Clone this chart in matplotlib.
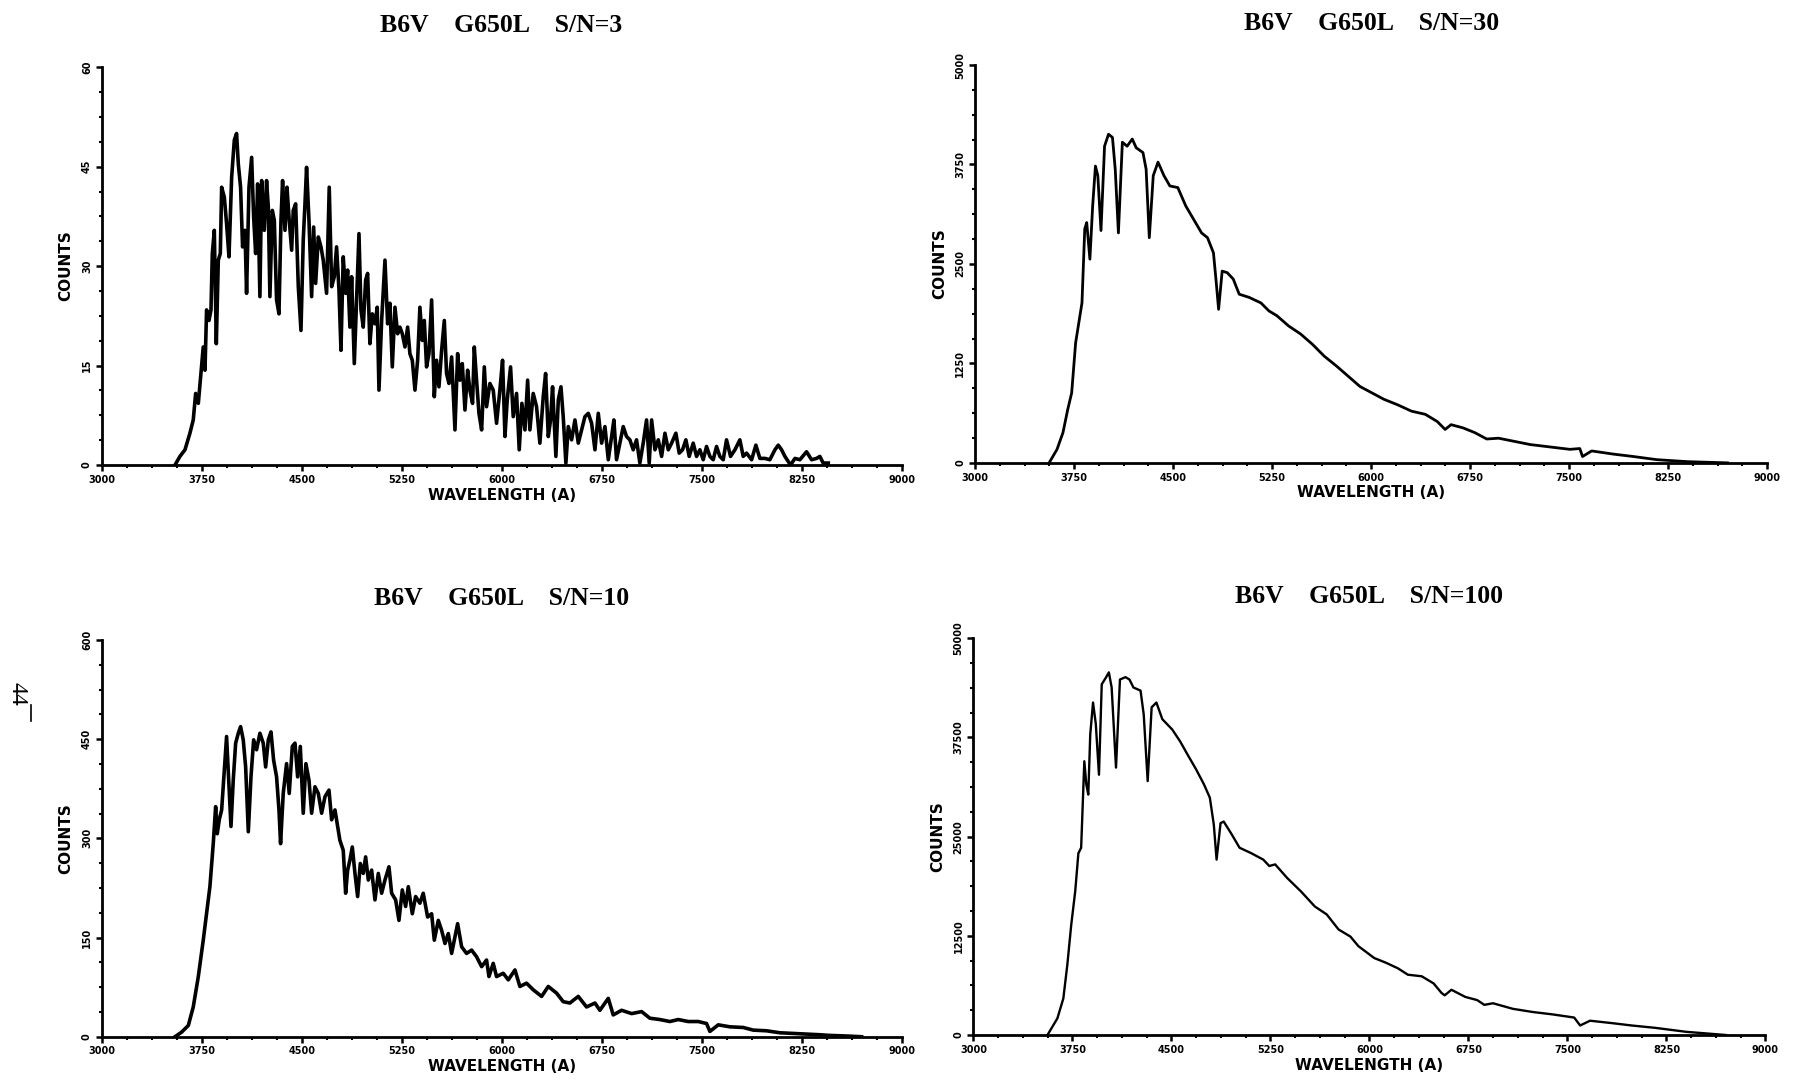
import matplotlib
matplotlib.use("Agg")
import matplotlib.pyplot as plt
from matplotlib.ticker import AutoMinorLocator

# ---- data ----
x_ticks = [3000, 3750, 4500, 5250, 6000, 6750, 7500, 8250, 9000]

wl_sn3 = [3550, 3587, 3625, 3662, 3687, 3705, 3725, 3745, 3762, 3775, 3787, 3805, 3820, 3830, 3845,
          3860, 3875, 3890, 3900, 3920, 3937, 3955, 3975, 3995, 4012, 4025, 4042, 4057, 4075, 4087,
          4105, 4125, 4140, 4155, 4170, 4187, 4200, 4220, 4237, 4250, 4262, 4280, 4295, 4312, 4330,
          4345, 4357, 4375, 4390, 4405, 4425, 4437, 4455, 4475, 4495, 4512, 4525, 4537, 4555, 4575,
          4590, 4605, 4625, 4645, 4662, 4687, 4707, 4725, 4745, 4762, 4780, 4795, 4812, 4830, 4845,
          4862, 4875, 4895, 4912, 4930, 4945, 4962, 4980, 4995, 5012, 5030, 5050, 5067, 5080, 5100,
          5125, 5145, 5162, 5180, 5200, 5220, 5237, 5255, 5275, 5295, 5312, 5330, 5350, 5370, 5387,
          5405, 5420, 5437, 5455, 5475, 5495, 5512, 5530, 5550, 5570, 5587, 5605, 5625, 5650, 5670,
          5687, 5705, 5725, 5745, 5762, 5782, 5795, 5812, 5830, 5850, 5870, 5887, 5912, 5937, 5962,
          5987, 6007, 6025, 6042, 6067, 6087, 6112, 6132, 6152, 6175, 6195, 6212, 6237, 6262, 6287,
          6312, 6330, 6350, 6367, 6382, 6407, 6425, 6445, 6462, 6482, 6500, 6525, 6550, 6575, 6600,
          6625, 6650, 6675, 6700, 6725, 6750, 6775, 6800, 6825, 6842, 6862, 6887, 6912, 6937, 6962,
          6987, 7012, 7037, 7062, 7087, 7107, 7125, 7150, 7175, 7200, 7225, 7250, 7275, 7307, 7332,
          7357, 7382, 7407, 7437, 7462, 7487, 7512, 7537, 7562, 7587, 7612, 7637, 7662, 7687, 7717,
          7750, 7787, 7812, 7837, 7875, 7907, 7937, 7975, 8012, 8050, 8075, 8100, 8125, 8167, 8200,
          8237, 8287, 8325, 8362, 8387, 8412, 8450]
counts_sn3 = [0, 1.3, 2.3, 4.8, 6.8, 10.8, 9.3, 13.8, 17.8, 14.3, 23.4, 21.8, 23.4, 31.9, 35.4,
              18.3, 30.9, 31.9, 41.9, 40.4, 36.4, 31.4, 43.4, 49.0, 50.0, 45.4, 41.9, 32.9, 35.4, 25.9,
              41.9, 46.4, 37.4, 31.9, 42.4, 25.4, 42.9, 35.4, 42.9, 38.9, 25.4, 38.4, 36.9, 24.9, 22.8,
              36.9, 42.9, 35.4, 41.9, 37.4, 32.4, 38.4, 39.4, 26.9, 20.3, 33.9, 39.4, 44.9, 36.9, 25.4,
              35.9, 27.4, 34.4, 32.9, 30.9, 25.9, 41.9, 26.9, 28.4, 32.9, 26.4, 17.3, 31.4, 25.9, 29.4,
              20.8, 28.4, 15.3, 24.9, 34.9, 23.4, 20.8, 27.9, 28.9, 18.3, 22.8, 21.3, 23.8, 11.3, 21.8,
              30.9, 21.3, 24.4, 14.8, 23.8, 19.8, 20.8, 19.8, 17.8, 20.8, 16.8, 15.8, 11.3, 15.8, 23.8,
              18.8, 21.8, 14.8, 16.8, 24.9, 10.3, 15.8, 11.8, 17.3, 21.8, 13.8, 12.3, 16.3, 5.3, 16.8,
              12.8, 15.3, 8.3, 14.3, 11.3, 9.3, 17.8, 12.8, 7.8, 5.3, 14.8, 8.8, 12.3, 11.3, 6.3,
              11.3, 15.8, 4.3, 9.8, 14.8, 7.3, 10.8, 2.3, 9.3, 5.3, 12.8, 5.3, 10.8, 8.8, 3.3,
              10.3, 13.8, 4.3, 6.8, 11.8, 1.3, 9.8, 11.8, 7.3, 0.3, 5.8, 3.8, 6.8, 3.3, 5.3,
              7.3, 7.8, 6.3, 2.3, 7.8, 3.3, 5.8, 0.8, 4.3, 6.8, 0.8, 3.3, 5.8, 4.3, 3.8,
              2.3, 3.8, 0.3, 3.3, 6.8, 0.3, 6.8, 2.3, 3.8, 1.3, 4.8, 2.3, 3.3, 4.8, 1.8,
              2.3, 3.8, 1.3, 3.3, 1.3, 2.3, 0.8, 2.8, 1.3, 0.8, 2.8, 1.3, 0.8, 3.8, 1.3,
              2.3, 3.8, 1.3, 1.8, 0.8, 3.0, 1.0, 1.0, 0.8, 2.3, 3.0, 2.3, 1.3, 0.0, 1.0,
              0.8, 2.0, 0.8, 1.0, 1.3, 0.3, 0.3]

wl_sn10 = [3550, 3600, 3650, 3687, 3725, 3762, 3787, 3812, 3837, 3855, 3867, 3882, 3900, 3920, 3937,
           3955, 3970, 3987, 4005, 4025, 4042, 4062, 4080, 4100, 4120, 4140, 4162, 4187, 4212, 4230,
           4250, 4270, 4290, 4312, 4330, 4342, 4362, 4387, 4407, 4430, 4450, 4470, 4490, 4512, 4532,
           4555, 4575, 4600, 4625, 4650, 4675, 4705, 4725, 4750, 4770, 4787, 4812, 4830, 4845, 4862,
           4880, 4900, 4920, 4940, 4962, 4980, 5000, 5025, 5050, 5075, 5100, 5125, 5155, 5175, 5205,
           5230, 5255, 5280, 5300, 5330, 5355, 5387, 5412, 5445, 5475, 5495, 5525, 5550, 5575, 5600,
           5625, 5670, 5700, 5737, 5775, 5812, 5850, 5887, 5905, 5937, 5962, 6012, 6050, 6100, 6137,
           6187, 6237, 6300, 6350, 6412, 6462, 6512, 6575, 6637, 6700, 6737, 6800, 6837, 6900, 6975,
           7050, 7112, 7187, 7262, 7325, 7400, 7475, 7537, 7562, 7625, 7712, 7812, 7887, 7987, 8087,
           8187, 8287, 8387, 8462, 8600, 8700]
counts_sn10 = [0, 7, 17, 45, 91, 146, 186, 227, 292, 348, 307, 328, 343, 403, 454,
               378, 318, 388, 444, 459, 469, 449, 408, 310, 393, 449, 434, 459, 444, 408,
               449, 461, 418, 393, 343, 292, 368, 413, 368, 439, 444, 393, 439, 338, 413,
               388, 338, 378, 368, 338, 363, 373, 328, 343, 318, 297, 282, 217, 252, 267,
               287, 247, 212, 262, 247, 272, 237, 252, 207, 247, 217, 237, 257, 217, 207,
               176, 222, 197, 227, 186, 212, 202, 217, 181, 186, 146, 176, 161, 141, 156,
               126, 171, 136, 126, 131, 121, 106, 116, 91, 111, 91, 96, 86, 101, 76,
               81, 71, 61, 76, 66, 53, 51, 61, 45, 51, 40, 58, 33, 40, 35,
               38, 28, 26, 23, 26, 23, 23, 20, 8, 18, 15, 14, 10, 9, 6,
               5, 4, 3, 2, 1, 0]

wl_sn30 = [3561, 3621, 3666, 3702, 3732, 3762, 3786, 3810, 3831, 3846, 3870, 3891, 3912, 3930, 3954,
           3981, 4011, 4041, 4062, 4086, 4116, 4152, 4191, 4221, 4272, 4296, 4320, 4350, 4386, 4431,
           4476, 4536, 4596, 4656, 4716, 4761, 4806, 4827, 4845, 4872, 4911, 4956, 5001, 5076, 5166,
           5226, 5286, 5376, 5466, 5556, 5646, 5736, 5826, 5916, 6006, 6096, 6201, 6306, 6411, 6501,
           6561, 6606, 6696, 6786, 6876, 6966, 7086, 7206, 7356, 7506, 7581, 7602, 7671, 7836, 7986,
           8166, 8400, 8700]
counts_sn30 = [0, 170, 380, 670, 880, 1510, 1760, 2010, 2940, 3020, 2560, 3230, 3730, 3610, 2920,
               3980, 4130, 4090, 3690, 2890, 4030, 3980, 4070, 3960, 3900, 3690, 2830, 3610, 3780, 3610,
               3480, 3460, 3230, 3060, 2890, 2830, 2640, 2270, 1930, 2410, 2390, 2310, 2120, 2080, 2010,
               1910, 1850, 1720, 1620, 1490, 1340, 1220, 1090, 960, 880, 800, 730, 650, 610, 520,
               420, 480, 440, 380, 300, 310, 270, 230, 200, 170, 180, 80, 150, 110, 80,
               40, 15, 0]

wl_sn100 = [3561, 3636, 3681, 3711, 3741, 3771, 3795, 3816, 3840, 3855, 3870, 3885, 3906, 3927, 3951,
            3972, 4002, 4026, 4047, 4080, 4110, 4152, 4182, 4212, 4266, 4290, 4320, 4350, 4386, 4431,
            4506, 4566, 4620, 4686, 4746, 4791, 4821, 4842, 4872, 4896, 4956, 5016, 5106, 5196, 5241,
            5286, 5376, 5481, 5586, 5676, 5766, 5856, 5916, 6036, 6126, 6216, 6291, 6396, 6486, 6546,
            6570, 6621, 6726, 6816, 6870, 6936, 7086, 7236, 7386, 7551, 7596, 7671, 7836, 7986, 8166,
            8400, 8700]
counts_sn100 = [0, 2100, 4600, 8800, 13900, 18100, 22900, 23600, 34500, 31600, 30300, 37900, 41900, 39200, 32800,
                44200, 45000, 45700, 43800, 33700, 44800, 45100, 44800, 43800, 43400, 40400, 32000, 41300, 41900, 39800,
                38500, 37000, 35400, 33500, 31600, 29900, 26500, 22100, 26700, 26900, 25300, 23600, 22900, 22100, 21300,
                21500, 19800, 18100, 16200, 15200, 13300, 12400, 11200, 9700, 9100, 8400, 7600, 7400, 6500, 5300,
                5000, 5700, 4800, 4400, 3800, 4000, 3300, 2900, 2600, 2200, 1200, 1800, 1500, 1200, 900,
                400, 0]

yticks_sn3 = [0, 15, 30, 45, 60]
yticks_sn10 = [0, 150, 300, 450, 600]
yticks_sn30 = [0, 1250, 2500, 3750, 5000]
yticks_sn100 = [0, 12500, 25000, 37500, 50000]


def draw_panel(ax, wl, counts, yticks, title, lw):
    ax.plot(wl, counts, color="black", lw=lw, solid_joinstyle="round")
    ax.set_xlim(3000, 9000)
    ax.set_ylim(yticks[0], yticks[-1])
    ax.spines["top"].set_visible(False)
    ax.spines["right"].set_visible(False)
    for s in ("left", "bottom"):
        ax.spines[s].set_linewidth(2)
    ax.set_xticks(x_ticks)
    ax.set_xticklabels([str(v) for v in x_ticks], fontsize=7, fontweight="bold")
    ax.set_yticks(yticks)
    ax.set_yticklabels([str(v) for v in yticks], fontsize=7, fontweight="bold",
                       rotation=90, va="center")
    ax.xaxis.set_minor_locator(AutoMinorLocator(4))
    ax.yaxis.set_minor_locator(AutoMinorLocator(4))
    ax.tick_params(which="major", direction="out", length=4, width=1.8, pad=3)
    ax.tick_params(which="minor", direction="out", length=2.5, width=1.5)
    ax.set_xlabel("WAVELENGTH (A)", fontsize=11, fontweight="bold", labelpad=2)
    ax.set_ylabel("COUNTS", fontsize=11, fontweight="bold", labelpad=6)
    ax.text(0.5, 1.105, title, transform=ax.transAxes, ha="center", va="center",
            family="Liberation Serif", fontweight="bold", fontsize=18.5)


fig = plt.figure(figsize=(17.96, 10.84), dpi=100)
ax1 = fig.add_axes([0.0566, 0.571, 0.4454, 0.367])
ax2 = fig.add_axes([0.5429, 0.573, 0.4410, 0.367])
ax3 = fig.add_axes([0.0566, 0.0436, 0.4454, 0.366])
ax4 = fig.add_axes([0.5420, 0.0452, 0.4410, 0.366])

draw_panel(ax1, wl_sn3, counts_sn3, yticks_sn3, "B6V    G650L    S/N=3", 2.6)
draw_panel(ax2, wl_sn30, counts_sn30, yticks_sn30, "B6V    G650L    S/N=30", 2.0)
draw_panel(ax3, wl_sn10, counts_sn10, yticks_sn10, "B6V    G650L    S/N=10", 2.6)
draw_panel(ax4, wl_sn100, counts_sn100, yticks_sn100, "B6V    G650L    S/N=100", 1.7)

# page number at the left margin
fig.text(0.0095, 0.36, "44", rotation=-90, ha="center", va="center",
         family="Liberation Serif", fontsize=17)
fig.add_artist(plt.Line2D([0.0175, 0.0175], [0.335, 0.35], color="black", lw=1.2))

fig.savefig("out.png", dpi=100)
